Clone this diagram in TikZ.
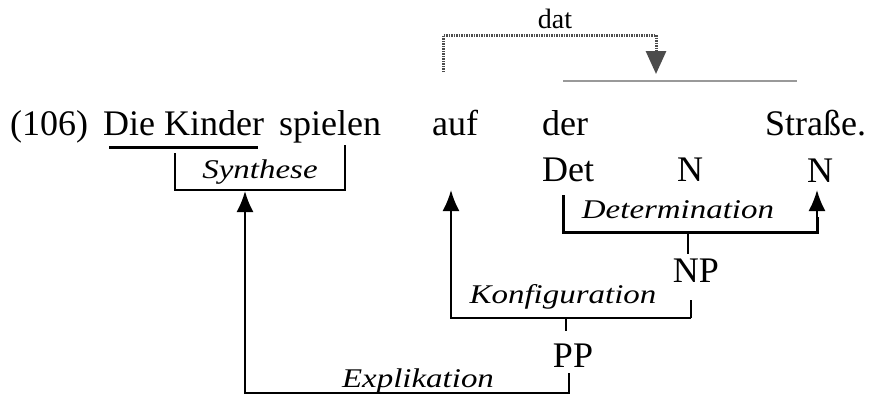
\documentclass[tikz,border=0pt]{standalone}
\usepackage{fontspec}
\setmainfont{Liberation Serif}
\newfontfamily\relfont{Liberation Serif Italic}[FakeStretch=1.22]
\usepackage{tikz}
\usetikzlibrary{arrows.meta,positioning}

\begin{document}
\begin{tikzpicture}[x=1pt, y=-1pt,
		word/.style={inner sep=0pt, anchor=base west, font=\fontsize{36}{40}\selectfont},
		cat/.style={inner sep=0pt, anchor=base, font=\fontsize{36}{40}\selectfont},
		rel/.style={inner sep=0pt, anchor=base, font=\fontsize{27}{30}\relfont},
		br/.style={line width=2pt},
		up/.style={line width=2pt, -{Latex[length=21pt,width=17pt]}}]
			%\draw[help lines] (0,0) grid[step=50] (878,399);
			\useasboundingbox (0,0) rectangle (878,399);

			% the sentence
			\node[word] (num) at (10,135) {(106)};
			\node[word] (kinder) at (103,135) {Die Kinder};
			\node[word] (spielen) at (279,135) {spielen};
			\node[word] (auf) at (432,135) {auf};
			\node[word] (der) at (542,135) {der};
			\node[word] (strasse) at (765,135) {Straße.};
			\node[inner sep=0pt, anchor=base, font=\fontsize{28}{30}\selectfont] (dat) at (555,28) {dat};

			% categories
			\node[cat, anchor=base west] (det) at (542,181) {Det};
			\node[cat] (n1) at (690,181) {N};
			\node[cat] (n2) at (820,182) {N};
			\node[cat] (np) at (696,282) {NP};
			\node[cat] (pp) at (573,367) {PP};

			% relations
			\node[rel] (syn) at (260,178) {Synthese};
			\node[rel] (detm) at (678,218) {Determination};
			\node[rel] (konf) at (563,303) {Konfiguration};
			\node[rel] (expl) at (418,387) {Explikation};

			\coordinate (datL) at (443,72);
			\coordinate (datR) at (656,74);
			\coordinate (synL) at (175,153);
			\coordinate (synR) at (345,145);
			\coordinate (synA) at (245,191);
			\coordinate (detL) at (563,195);
			\coordinate (detA) at (817,190);
			\coordinate (aufA) at (451,190);

			\draw[line width=3pt, gray!60!black, dash pattern=on 1.5pt off 1pt,
				-{Triangle[length=23pt,width=20pt,fill=gray!60!black]}]
				(datL) |- (datR |- 0,35) -- (datR);
			\draw[line width=2pt, gray!80] (563,81) -- (797,81);
			\draw[line width=3pt] (109,147) -- (258,147);

			\draw[br] (synL) |- (synR |- 0,190) -- (synR);
			\draw[line width=3pt] (detL) |- (detA |- 0,232) -- ++(0,-15);
			\draw[up] (detA |- 0,233) -- (detA);
			\draw[br] (688,232) -- (688,254);
			\draw[br] (691,300) -- (691,318);
			\draw[up] (691,318) -| (aufA);
			\draw[br] (566,318) -- (566,331);
			\draw[up] (569,373) |- (synA |- 0,393) -- (synA);
		\end{tikzpicture}
\end{document}
